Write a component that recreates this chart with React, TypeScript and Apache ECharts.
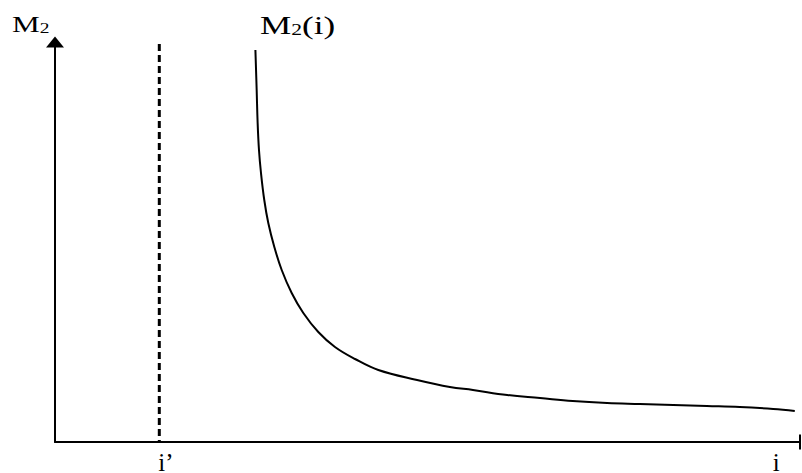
import React, { useEffect, useRef } from "react";
import * as echarts from "echarts";

// Abstract coordinates: x 0..100 along i, y 0..100 along M2
const curveX = [26.9, 27.07, 27.2, 27.38, 27.65, 28.09, 28.63, 29.44, 30.43, 31.77, 33.33, 35.34, 37.58, 40.27, 43.4, 48.6, 53.0, 56.1, 60.7, 65.1, 69.5, 74.1, 78.5, 83.0, 87.5, 91.9, 96.4, 99.3];
const curveY = [98, 88, 79.75, 73, 67.25, 60.5, 54.75, 48.75, 43, 37.25, 32.25, 27.5, 23.75, 20.75, 18, 15.5, 13.75, 13, 11.75, 11, 10.25, 9.75, 9.5, 9.25, 9, 8.75, 8.25, 7.75];
const iPrimeX = 14;
const iPrimeTop = 99.5;
const xLabelValues = [14.9, 96.8];
const xLabelTexts = ["i\u2019", "i"];

export default function App() {
  const ref = useRef<HTMLDivElement>(null);
  useEffect(() => {
    if (!ref.current) return;
    const chart = echarts.init(ref.current, null, { renderer: "svg" });
    const serif = "'Liberation Serif', 'Times New Roman', serif";
    chart.setOption({
      animation: false,
      backgroundColor: "#fff",
      grid: { left: 55, right: 2, top: 42, bottom: 31, containLabel: false, outerBoundsMode: "none" },
      xAxis: {
        type: "value",
        min: 0,
        max: 100,
        axisLine: {
          show: true,
          symbol: ["none", "rect"],
          symbolSize: [15, 2],
          lineStyle: { color: "#000", width: 2 },
        },
        axisTick: { show: false },
        splitLine: { show: false },
        axisLabel: {
          customValues: xLabelValues,
          formatter: (v: number) => {
            const idx = xLabelValues.findIndex((x) => Math.abs(x - v) < 1e-6);
            return idx >= 0 ? xLabelTexts[idx] : "";
          },
          fontSize: 25,
          fontFamily: serif,
          color: "#000",
          margin: 8,
        },
      },
      yAxis: {
        type: "value",
        min: 0,
        max: 100,
        axisLine: {
          show: true,
          symbol: ["none", "triangle"],
          symbolSize: [18, 11],
          lineStyle: { color: "#000", width: 2 },
        },
        axisTick: { show: false },
        splitLine: { show: false },
        axisLabel: { show: false },
      },
      graphic: [
        {
          type: "text",
          x: 12,
          y: 12,
          scaleX: 1.3,
          style: {
            text: "{a|M}{b|2}",
            rich: {
              a: { fontSize: 24, fontFamily: serif, fill: "#000", verticalAlign: "bottom", lineHeight: 24 },
              b: { fontSize: 15, fontFamily: serif, fill: "#000", verticalAlign: "bottom", lineHeight: 24 },
            },
            fill: "#000",
          },
        },
        {
          type: "text",
          x: 260,
          y: 12,
          scaleX: 1.35,
          style: {
            text: "{a|M}{b|2}{a|(i)}",
            rich: {
              a: { fontSize: 26, fontFamily: serif, fill: "#000", verticalAlign: "bottom", lineHeight: 26 },
              b: { fontSize: 16, fontFamily: serif, fill: "#000", verticalAlign: "bottom", lineHeight: 26 },
            },
            fill: "#000",
          },
        },
      ],
      series: [
        {
          type: "line",
          data: curveX.map((x, i) => [x, curveY[i]]),
          smooth: 0.4,
          showSymbol: false,
          lineStyle: { color: "#000", width: 2 },
        },
        {
          type: "line",
          data: [
            [iPrimeX, iPrimeTop],
            [iPrimeX, 0],
          ],
          showSymbol: false,
          lineStyle: { color: "#000", width: 3, type: [7, 4], cap: "butt" },
        },
      ],
    });
    return () => chart.dispose();
  }, []);
  return <div ref={ref} style={{ width: 802, height: 473, position: "absolute", left: 0, top: 0 }} />;
}
